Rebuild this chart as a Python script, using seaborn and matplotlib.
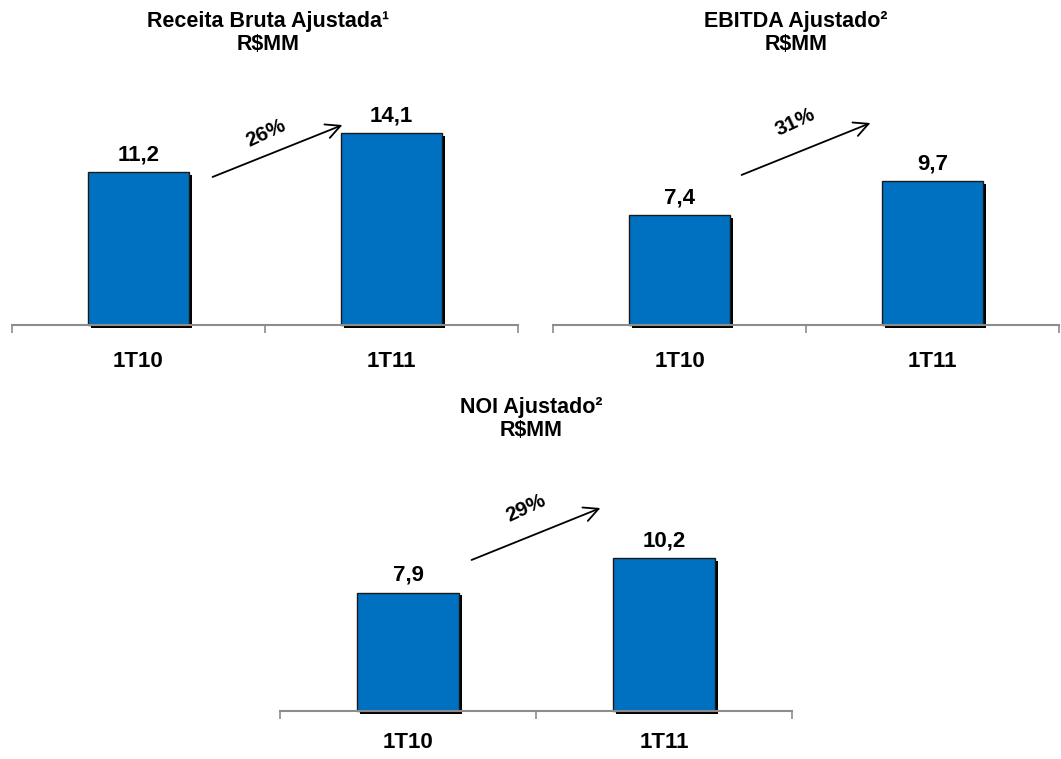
import pandas as pd
import seaborn as sns
import matplotlib.pyplot as plt
import matplotlib.patheffects as pe

sns.set_style('white')
plt.rcParams['font.family'] = ['Liberation Sans', 'DejaVu Sans']
plt.rcParams['text.color'] = 'black'
plt.rcParams['xtick.color'] = 'black'
plt.rcParams['xtick.labelcolor'] = 'black'

# Dados
trimestres = ['1T10', '1T11']
receita = [11.2, 14.1]
ebitda = [7.4, 9.7]
noi = [7.9, 10.2]
crescimento = ['26%', '31%', '29%']
titulos = ['Receita Bruta Ajustada¹', 'EBITDA Ajustado²', 'NOI Ajustado²']

W, H = 1061, 759
fig = plt.figure(figsize=(W / 100, H / 100), dpi=100)


def px_axes(x0, x1, y_base, y_top):
    return fig.add_axes([x0 / W, 1 - y_base / H, (x1 - x0) / W, (y_base - y_top) / H])


def painel(ax, valores, ymax, titulo, tx, ty, pct, seta, pad):
    df = pd.DataFrame({'Trimestre': trimestres, 'Valor': valores})
    sns.barplot(data=df, x='Trimestre', y='Valor', color='#0070C0', width=0.4,
                saturation=1, edgecolor='#1a1a1a', linewidth=1, ax=ax)
    for p in ax.patches:
        p.set_clip_on(False)
        p.set_zorder(3)
        p.set_path_effects([pe.SimplePatchShadow(offset=(2, -2), shadow_rgbFace='black', alpha=1),
                            pe.Normal()])
    ax.bar_label(ax.containers[0], labels=[f'{v:.1f}'.replace('.', ',') for v in valores],
                 padding=5, fontsize=16, fontweight='bold')
    ax.set_xlim(-0.5, 1.5)
    ax.set_ylim(0, ymax)
    ax.set_xlabel('')
    ax.set_ylabel('')
    ax.set_yticks([])
    for s in ['top', 'left', 'right']:
        ax.spines[s].set_visible(False)
    ax.spines['bottom'].set_color('#8c8c8c')
    ax.spines['bottom'].set_linewidth(1.5)
    ax.spines['bottom'].set_zorder(4)
    ax.set_xticks([-0.5, 0.5, 1.5], minor=True)
    ax.tick_params(axis='x', which='minor', bottom=True, length=6, color='#8c8c8c',
                   width=1.2, direction='out')
    ax.tick_params(axis='x', which='major', length=0, pad=pad, labelsize=16)
    for t in ax.get_xticklabels():
        t.set_fontweight('bold')
    fig.text(tx / W, 1 - ty / H, titulo, ha='center', va='center', fontsize=15.5, fontweight='bold')
    fig.text(tx / W, 1 - (ty + 23) / H, r'R\$MM', ha='center', va='center', fontsize=15.5,
             fontweight='bold')
    (x0, y0), (x1, y1), (lx, ly) = seta
    ax.annotate('', xy=(x1 / W, 1 - y1 / H), xytext=(x0 / W, 1 - y0 / H),
                xycoords='figure fraction', textcoords='figure fraction',
                arrowprops=dict(arrowstyle='->', color='black', lw=1.3, mutation_scale=26))
    fig.text(lx / W, 1 - ly / H, pct, ha='center', va='center', fontsize=15,
             fontweight='bold', rotation=25)


ax1 = px_axes(12, 518, 325, 80)
painel(ax1, receita, 245 / 13.62, titulos[0], 268, 22, crescimento[0],
       ((210, 178), (345, 124), (266, 133)), 19)

ax2 = px_axes(553, 1059, 325, 80)
painel(ax2, ebitda, 245 / 14.8, titulos[1], 796, 22, crescimento[1],
       ((739, 176), (873, 122), (795, 122)), 19)

ax3 = px_axes(280, 792, 711, 470)
painel(ax3, noi, 241 / 15.0, titulos[2], 531, 407, crescimento[2],
       ((469, 561), (603, 507), (526, 508)), 15)

plt.savefig('out.png', dpi=100)
